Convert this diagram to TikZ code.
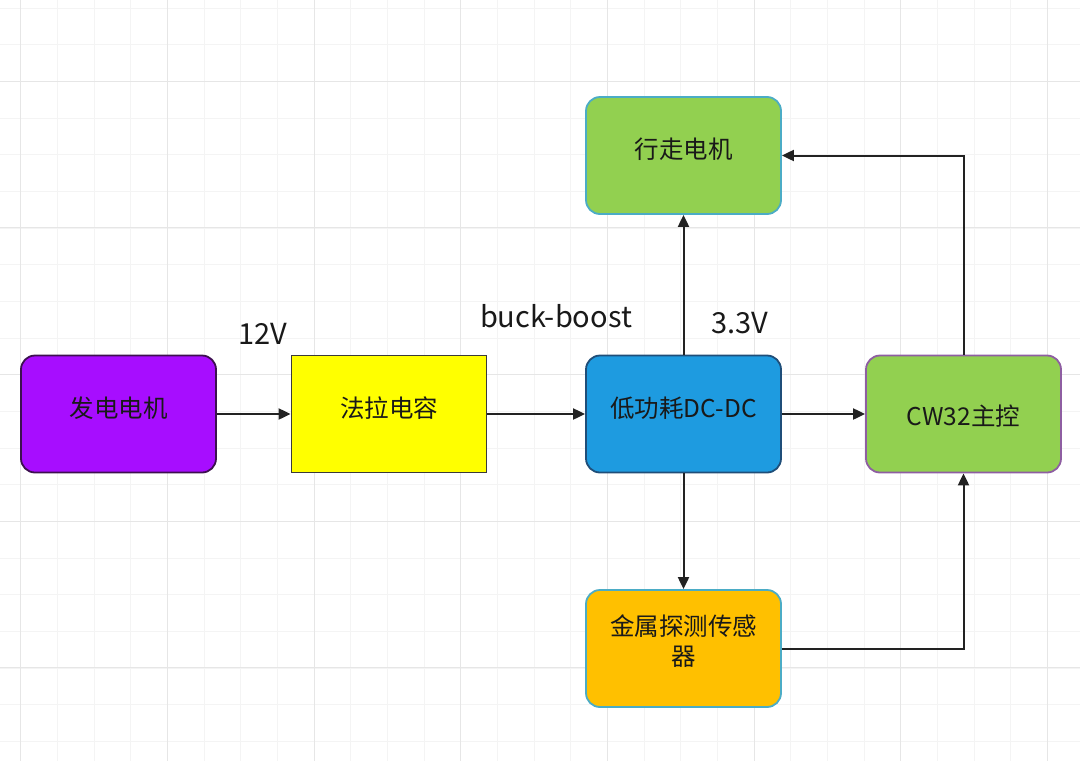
\documentclass[tikz,border=0pt]{standalone}
\usepackage{fontspec}
\setmainfont{Noto Sans CJK SC}
\usetikzlibrary{arrows.meta}
\definecolor{gridminor}{HTML}{F4F4F4}
\definecolor{gridmajor}{HTML}{E6E6E6}
\definecolor{cpurple}{HTML}{A70DFF}
\definecolor{bpurple}{HTML}{3D1050}
\definecolor{cyellow}{HTML}{FFFF00}
\definecolor{bdark}{HTML}{3A3A3A}
\definecolor{cblue}{HTML}{1E9BE0}
\definecolor{bblue}{HTML}{1F4E79}
\definecolor{cgreen}{HTML}{92D050}
\definecolor{bteal}{HTML}{4BACC6}
\definecolor{bviolet}{HTML}{8E5EA2}
\definecolor{corange}{HTML}{FFC000}
\definecolor{lineclr}{HTML}{222222}
\tikzset{
  blockbox/.style={draw, line width=1.8pt, minimum width=195pt, minimum height=117pt, inner sep=0pt},
  roundbox/.style={blockbox, rounded corners=14pt},
  boxtext/.style={font=\fontsize{24.5}{30}\selectfont, text=black!90, align=center, inner sep=0pt},
  txt/.style={label={[boxtext, yshift=#1]center:##1}},
  conn/.style={draw=lineclr, line width=2pt, -{Triangle[length=12pt,width=11pt]}},
  lbl/.style={font=\fontsize{29}{34}\selectfont, text=black!90, inner sep=0pt, anchor=base}
}
\begin{document}
\begin{tikzpicture}[x=1pt,y=-1pt]
\useasboundingbox (0,0) rectangle (1080,761);
\fill[white] (0,0) rectangle (1080,761);
% grid
\foreach \i in {0,...,29} {
  \pgfmathsetmacro{\xx}{20.7+36.67*(\i-0)}
  \draw[gridminor, line width=0.8pt] (\xx,0) -- (\xx,761);
}
\foreach \i in {-1,...,20} {
  \pgfmathsetmacro{\yy}{8+36.67*\i}
  \draw[gridminor, line width=0.8pt] (0,\yy) -- (1080,\yy);
}
\foreach \i in {0,...,7} {
  \pgfmathsetmacro{\xx}{20.7+146.67*\i}
  \draw[gridmajor, line width=1pt] (\xx,0) -- (\xx,761);
}
\foreach \i in {0,...,4} {
  \pgfmathsetmacro{\yy}{81.3+146.67*\i}
  \draw[gridmajor, line width=1pt] (0,\yy) -- (1080,\yy);
}
% nodes
\node[roundbox, fill=cpurple, draw=bpurple,
  label={[boxtext, yshift=6pt]center:发电电机}] (gen) at (118.5,414) {};
\node[blockbox, fill=cyellow, draw=bdark,
  label={[boxtext, yshift=6pt]center:法拉电容}] (cap) at (389,414) {};
\node[roundbox, fill=cblue, draw=bblue,
  label={[boxtext, yshift=6pt]center:低功耗DC-DC}] (dcdc) at (683.5,414) {};
\node[roundbox, fill=cgreen, draw=bviolet,
  label={[boxtext, yshift=-2pt]center:CW32主控}] (mcu) at (963.5,414) {};
\node[roundbox, fill=cgreen, draw=bteal,
  label={[boxtext, yshift=6pt]center:行走电机}] (motor) at (683.5,155.5) {};
\node[roundbox, fill=corange, draw=bteal,
  label={[boxtext, yshift=7pt]center:金属探测传感\\器}] (sensor) at (683.5,648.5) {};
% labels
\node[lbl] (l12) at (263,344) {12V};
\node[lbl] (lbb) at (556,327) {buck-boost};
\node[lbl] (l33) at (740,333) {3.3V};
% connectors
\draw[conn] (gen.east) -- (cap.west);
\draw[conn] (cap.east) -- (dcdc.west);
\draw[conn] (dcdc.east) -- (mcu.west);
\draw[conn] (dcdc.north) -- (motor.south);
\draw[conn] (dcdc.south) -- (sensor.north);
\draw[conn] (mcu.north) |- (motor.east);
\draw[conn] (sensor.east) -| (mcu.south);
\end{tikzpicture}
\end{document}
